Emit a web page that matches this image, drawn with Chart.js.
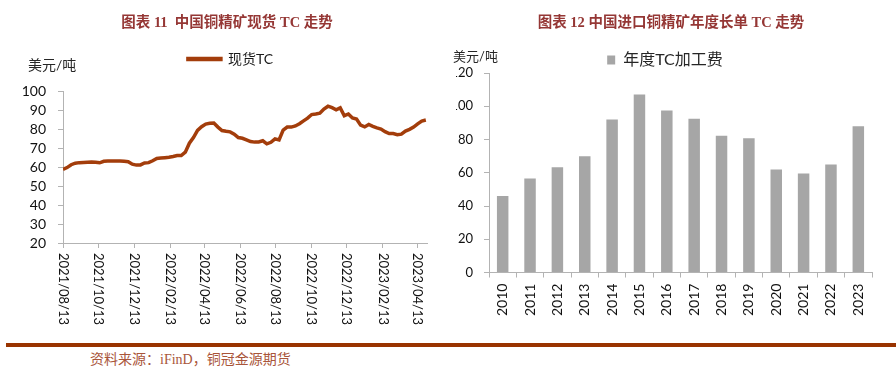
<!DOCTYPE html>
<html lang="zh">
<head>
  <meta charset="UTF-8" />
  <title>铜精矿 TC</title>
  <script src="https://cdn.jsdelivr.net/npm/chart.js"></script>
  <style>
    body {
      margin: 0;
      background: #fff;
      width: 896px;
      height: 371px;
      position: relative;
      overflow: hidden;
      font-family: Lato, 'Noto Sans CJK SC', sans-serif;
    }
    .title {
      position: absolute;
      top: 10px;
      font: bold 14.5px 'Liberation Serif', 'Noto Sans CJK SC', serif;
      color: #953735;
      white-space: nowrap;
      transform: translateX(-50%);
      z-index: 2;
    }
    .unit {
      position: absolute;
      color: #262626;
      white-space: nowrap;
      z-index: 2;
    }
    #leftBox { position: absolute; left: 0; top: 0; width: 445px; height: 335px; }
    #rightBox { position: absolute; left: 456px; top: 0; width: 440px; height: 335px; overflow: hidden; }
    #rightBox canvas { position: absolute; left: -16px; top: 0; }
    #rule { position: absolute; left: 6px; top: 343px; width: 890px; height: 4px; background: #993300; }
    #source {
      position: absolute; left: 90px; top: 348px;
      font: 14px 'Liberation Serif', 'Noto Sans CJK SC', serif;
      color: #a9553a;
    }
  </style>
</head>
<body>
  <div class="title" style="left:227px">图表 11&nbsp; 中国铜精矿现货 TC 走势</div>
  <div class="title" style="left:671px">图表 12 中国进口铜精矿年度长单 TC 走势</div>
  <div class="unit" style="left:28px; top:54px; font-size:14px">美元/吨</div>
  <div class="unit" style="left:453px; top:46px; font-size:13px">美元/吨</div>

  <div id="leftBox"><canvas id="spotChart" width="445" height="335"></canvas></div>
  <div id="rightBox"><canvas id="annualChart" width="446" height="335"></canvas></div>

  <div id="rule"></div>
  <div id="source">资料来源：iFinD，铜冠金源期货</div>

  <script>
    // 现货TC, weekly from 2021/08/13
    const spotStart = '2021/08/13';
    const spotValues = [
      58.8, 59.7, 61.2, 62.0, 62.3, 62.4, 62.5, 62.6, 62.5, 62.2,
      63.0, 63.1, 63.1, 63.1, 63.2, 63.0, 62.8, 61.5, 61.0, 61.1,
      62.1, 62.3, 63.3, 64.5, 64.7, 64.9, 65.1, 65.5, 66.0, 66.0,
      67.8, 72.5, 75.5, 79.3, 81.2, 82.6, 83.0, 83.1, 81.0, 79.2,
      78.8, 78.5, 77.3, 75.5, 75.1, 74.3, 73.4, 73.1, 73.2, 73.8,
      72.2, 73.0, 74.8, 74.2, 79.4, 81.0, 81.0, 81.6, 82.8, 84.3,
      85.7, 87.6, 87.9, 88.3, 90.5, 92.0, 91.2, 90.1, 91.1, 87.0,
      87.9, 85.8, 85.2, 82.0, 81.1, 82.4, 81.4, 80.6, 80.0, 78.6,
      77.6, 77.6, 77.0, 77.3, 78.9, 79.8, 81.0, 82.7, 84.2, 84.7
    ];
    const spotTickLabels = [
      '2021/08/13', '2021/10/13', '2021/12/13', '2022/02/13', '2022/04/13', '2022/06/13',
      '2022/08/13', '2022/10/13', '2022/12/13', '2023/02/13', '2023/04/13'
    ];
    const spotYTicks = [20, 30, 40, 50, 60, 70, 80, 90, 100];

    // 年度TC加工费
    const years = ['2010', '2011', '2012', '2013', '2014', '2015', '2016',
                   '2017', '2018', '2019', '2020', '2021', '2022', '2023'];
    const annualTC = [46, 56.5, 63.3, 70, 92, 107, 97.4, 92.5, 82.3, 80.8, 62, 59.5, 65, 88];

    const FONT = "Lato, 'Noto Sans CJK SC', sans-serif";
    const AXIS = '#b3b3b3';
    const LINE = '#a33d0b';

    function dayNum(s) {
      const p = s.split('/').map(Number);
      return Date.UTC(p[0], p[1] - 1, p[2]) / 86400000;
    }
    const day0 = dayNum(spotStart);
    const spotTickDays = spotTickLabels.map(s => dayNum(s) - day0);
    const spotPoints = spotValues.map((v, i) => ({ x: i * 7, y: v }));

    // nudge the legend box after layout (it sits off-centre in the source)
    const legendShift = {
      id: 'legendShift',
      afterLayout(chart, args, opts) {
        const l = chart.legend;
        l.left += opts.dx; l.right += opts.dx;
        l.top += opts.dy; l.bottom += opts.dy;
      }
    };

    // x labels rotated clockwise (top-to-bottom), like the source workbook
    const downLabels = {
      id: 'downLabels',
      afterDraw(chart) {
        const xs = chart.scales.x;
        const ctx = chart.ctx;
        ctx.save();
        ctx.font = '13px ' + FONT;
        ctx.fillStyle = '#111';
        ctx.textAlign = 'left';
        ctx.textBaseline = 'middle';
        spotTickDays.forEach((d, i) => {
          ctx.save();
          ctx.translate(xs.getPixelForValue(d), xs.top + 10);
          ctx.rotate(Math.PI / 2);
          ctx.fillText(spotTickLabels[i], 0, 0);
          ctx.restore();
        });
        ctx.restore();
      }
    };

    new Chart(document.getElementById('spotChart'), {
      type: 'line',
      data: {
        datasets: [{
          label: '现货TC',
          data: spotPoints,
          borderColor: LINE,
          backgroundColor: LINE,
          borderWidth: 3.5,
          pointRadius: 0,
          tension: 0
        }]
      },
      options: {
        responsive: false,
        animation: false,
        layout: { padding: { top: 42, left: 0, right: 18, bottom: 87 } },
        plugins: {
          legend: {
            labels: {
              boxWidth: 33, boxHeight: 1, padding: 25,
              color: '#1a1a1a', font: { family: FONT, size: 14 }
            }
          },
          legendShift: { dx: 17, dy: -15 },
          tooltip: { enabled: false }
        },
        scales: {
          x: {
            type: 'linear',
            min: 0,
            max: 625,
            afterBuildTicks: s => { s.ticks = spotTickDays.map(v => ({ value: v })); },
            ticks: { display: false },
            grid: { drawOnChartArea: false, drawTicks: true, tickLength: 5, color: AXIS },
            border: { color: AXIS }
          },
          y: {
            min: 20,
            max: 100,
            afterFit: s => { s.width = 63; },
            afterBuildTicks: s => { s.ticks = spotYTicks.map(v => ({ value: v })); },
            ticks: { autoSkip: false, padding: 12, color: '#111', font: { family: FONT, size: 14 } },
            grid: { drawOnChartArea: false, drawTicks: true, tickLength: 5, color: AXIS },
            border: { color: AXIS }
          }
        }
      },
      plugins: [downLabels, legendShift]
    });

    new Chart(document.getElementById('annualChart'), {
      type: 'bar',
      data: {
        labels: years,
        datasets: [{
          label: '年度TC加工费',
          data: annualTC,
          backgroundColor: '#a6a6a6',
          barPercentage: 0.42,
          categoryPercentage: 1
        }]
      },
      options: {
        responsive: false,
        animation: false,
        layout: { padding: { top: 42, left: 0, right: 14, bottom: 13 } },
        plugins: {
          legend: {
            labels: {
              boxWidth: 8, boxHeight: 9, padding: 5,
              color: '#262626', font: { family: FONT, size: 16 }
            }
          },
          legendShift: { dx: 9, dy: 5 },
          tooltip: { enabled: false }
        },
        scales: {
          x: {
            ticks: {
              autoSkip: false, minRotation: 90, maxRotation: 90, padding: 6,
              color: '#111', font: { family: FONT, size: 14 }
            },
            grid: { drawOnChartArea: false, drawTicks: true, tickLength: 5, color: AXIS, offset: true },
            border: { color: AXIS }
          },
          y: {
            min: 0,
            max: 120,
            afterFit: s => { s.width = 49; },
            ticks: { autoSkip: false, stepSize: 20, padding: 11, color: '#111', font: { family: FONT, size: 13 } },
            grid: { drawOnChartArea: false, drawTicks: true, tickLength: 5, color: AXIS },
            border: { color: AXIS }
          }
        }
      },
      plugins: [legendShift]
    });
  </script>
</body>
</html>
